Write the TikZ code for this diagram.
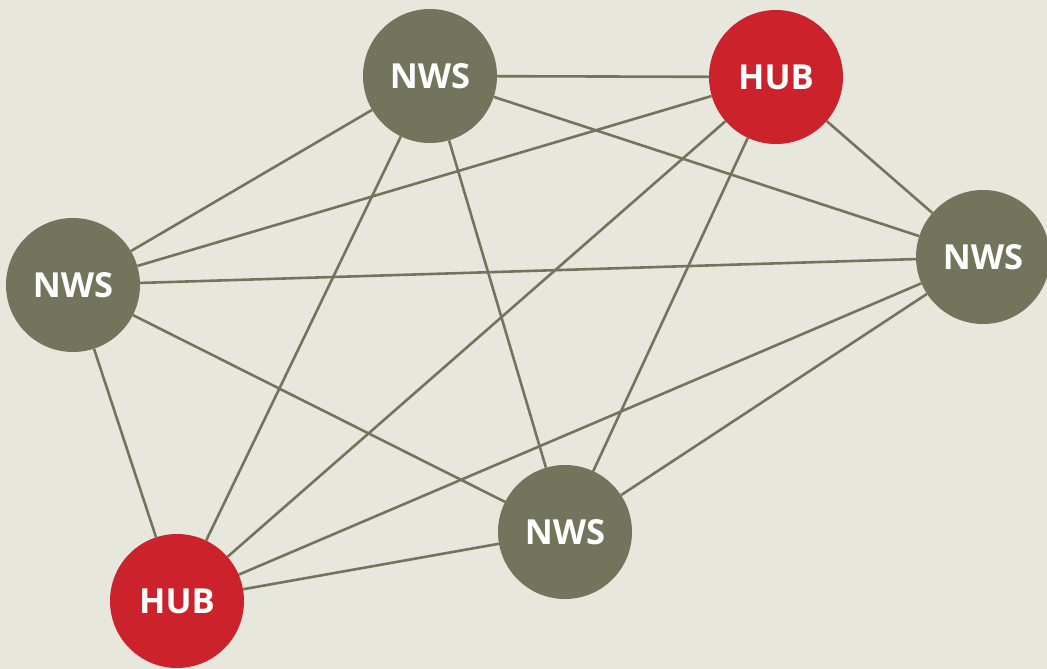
\documentclass[tikz,border=0pt]{standalone}
\usepackage{fontspec}
\setmainfont{Open Sans}
\definecolor{bgcol}{HTML}{E8E7DE}
\definecolor{nwscol}{HTML}{73745C}
\definecolor{hubcol}{HTML}{CB222C}

\begin{document}
\begin{tikzpicture}[x=1pt, y=-1pt,
    station/.style={circle, minimum size=134pt, inner sep=0pt, text=white,
        font=\fontsize{34.5}{40}\selectfont\bfseries},
    nws/.style={station, fill=nwscol},
    hub/.style={station, fill=hubcol},
    link/.style={draw=nwscol, line width=2.6pt}]

        % background and page size
        \fill[bgcol] (0,0) rectangle (1047,669);
        \useasboundingbox (0,0) rectangle (1047,669);

        % the stations
        \node[nws] (N1) at (430,76)  {NWS};
        \node[hub] (H1) at (776,77)  {HUB};
        \node[nws] (N2) at (73,285)  {NWS};
        \node[nws] (N3) at (983,257) {NWS};
        \node[nws] (N4) at (565,532) {NWS};
        \node[hub] (H2) at (177,601) {HUB};

        % every station is linked to every other one
        \draw[link] (N1) -- (H1) (N1) -- (N2) (N1) -- (N3) (N1) -- (N4) (N1) -- (H2);
        \draw[link] (H1) -- (N2) (H1) -- (N3) (H1) -- (N4) (H1) -- (H2);
        \draw[link] (N2) -- (N3) (N2) -- (N4) (N2) -- (H2);
        \draw[link] (N3) -- (N4) (N3) -- (H2);
        \draw[link] (N4) -- (H2);
\end{tikzpicture}
\end{document}
